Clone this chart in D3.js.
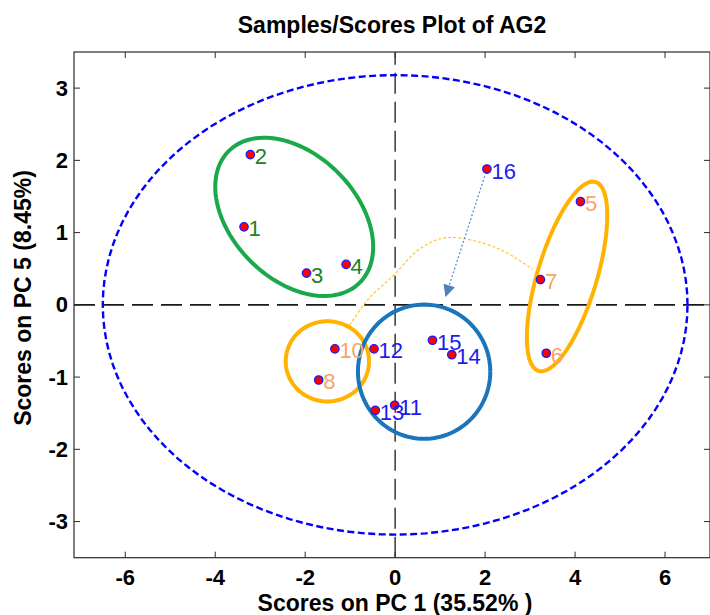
<!DOCTYPE html>
<html><head><meta charset="utf-8">
<script src="https://cdn.jsdelivr.net/npm/d3@7"></script>
<style>body{margin:0;background:#fff}svg{display:block}</style>
</head><body><svg id="c" width="710" height="615"></svg>
<script>
// ---------- data ----------
const sampleIds = ["1","2","3","4","5","6","7","8","10","11","12","13","14","15","16"];
const pc1Scores = [-3.36,-3.22,-1.97,-1.09,4.12,3.36,3.23,-1.70,-1.34,-0.01,-0.47,-0.44,1.26,0.83,2.04];
const pc5Scores = [1.08,2.08,0.44,0.56,1.43,-0.67,0.35,-1.04,-0.61,-1.39,-0.61,-1.46,-0.69,-0.49,1.88];
const sampleGroup = ["green","green","green","green","orange","orange","orange","orange","orange","blue","blue","blue","blue","blue","blue"];
const xTicks = [-6,-4,-2,0,2,4,6];
const yTicks = [-3,-2,-1,0,1,2,3];
const xDomain = [-7.14, 7.0];
const yDomain = [-3.5, 3.5];
// group ellipses: center (PC1, PC5) and two conjugate semi-axes in data units
const ellipseNames = ["green","orangeTall","orangeSmall","blue"];
const ellipseCenters = [[-2.244,1.218],[3.822,0.393],[-1.507,-0.782],[0.644,-0.925]];
const ellipseAxisA = [[1.458,-0.910],[0.633,1.308],[0.926,0],[1.471,0]];
const ellipseAxisB = [[-0.978,-0.610],[0.631,-0.119],[0,0.555],[0,0.929]];
// confidence ellipse (95% limit)
const limitCenter = [0,0];
const limitRadii = [6.5, 3.18];
// trajectory curve and arrow
const curveX = [-1.01,-0.61,-0.05,0.54,1.14,2.25,3.06];
const curveY = [-0.28,0.07,0.40,0.77,0.93,0.79,0.49];
const arrowFrom = [1.99,1.78];
const arrowTo = [1.12,0.11];

// ---------- layout ----------
const svg = d3.select("#c");
const L = 74, R = 710, T = 52, B = 557.7;
const x = d3.scaleLinear().domain(xDomain).range([L, R]);
const y = d3.scaleLinear().domain(yDomain).range([B, T]);
const font = "'Liberation Sans', Arial, sans-serif";

svg.append("defs").append("clipPath").attr("id","clip")
  .append("rect").attr("x",L).attr("y",T).attr("width",R-L).attr("height",B-T);
svg.select("defs").append("marker").attr("id","ah").attr("viewBox","0 0 10 10")
  .attr("refX",10).attr("refY",5).attr("markerWidth",13).attr("markerHeight",12)
  .attr("markerUnits","userSpaceOnUse").attr("orient","auto")
  .append("path").attr("d","M0,0L10,5L0,10Z").attr("fill","#4f7fbf");

const g = svg.append("g").attr("clip-path","url(#clip)");

// zero lines
g.append("line").attr("x1",x(xDomain[0])).attr("x2",x(xDomain[1])).attr("y1",y(0)).attr("y2",y(0))
  .attr("stroke","#1a1a1a").attr("stroke-width",1.6).attr("stroke-dasharray","21,8");
g.append("line").attr("x1",x(0)).attr("x2",x(0)).attr("y1",y(yDomain[0])).attr("y2",y(yDomain[1]))
  .attr("stroke","#444").attr("stroke-width",1.6).attr("stroke-dasharray","21,8");

function ellipsePts(c, a, b){
  return d3.range(0, 361, 3).map(t => {
    const r = t*Math.PI/180;
    return [c[0]+a[0]*Math.cos(r)+b[0]*Math.sin(r), c[1]+a[1]*Math.cos(r)+b[1]*Math.sin(r)];
  });
}
const line = d3.line().x(d=>x(d[0])).y(d=>y(d[1]));

// limit ellipse
g.append("path").attr("d", line(ellipsePts(limitCenter,[limitRadii[0],0],[0,limitRadii[1]])))
  .attr("fill","none").attr("stroke","#0000ff").attr("stroke-width",2.4).attr("stroke-dasharray","7,3.5");

// group ellipses
const ellColor = {green:"#19a84a", orangeTall:"#ffb300", orangeSmall:"#ffb300", blue:"#1b75bb"};
ellipseNames.forEach((n,i)=>{
  g.append("path").attr("d", line(ellipsePts(ellipseCenters[i],ellipseAxisA[i],ellipseAxisB[i])))
    .attr("fill","none").attr("stroke",ellColor[n]).attr("stroke-width",4);
});

// trajectory curve
g.append("path").attr("d", d3.line().x(d=>x(d[0])).y(d=>y(d[1])).curve(d3.curveCatmullRom)(curveX.map((v,i)=>[v,curveY[i]])))
  .attr("fill","none").attr("stroke","#ffc533").attr("stroke-width",1.2).attr("stroke-dasharray","3,2");

// arrow
g.append("line").attr("x1",x(arrowFrom[0])).attr("y1",y(arrowFrom[1])).attr("x2",x(arrowTo[0])).attr("y2",y(arrowTo[1]))
  .attr("stroke","#5b8fd0").attr("stroke-width",1.3).attr("stroke-dasharray","2,2").attr("marker-end","url(#ah)");

// points
const samples = sampleIds.map((id,i)=>({id, px:pc1Scores[i], py:pc5Scores[i], grp:sampleGroup[i]}));
g.selectAll("circle.pt").data(samples).join("circle").attr("class","pt")
  .attr("cx",d=>x(d.px)).attr("cy",d=>y(d.py)).attr("r",4.2)
  .attr("fill","#ff0000").attr("stroke","#1a1aff").attr("stroke-width",1.3);
const labColor = {green:"#22801e", orange:"#f7a468", blue:"#1c1cf0"};
g.selectAll("text.lab").data(samples).join("text").attr("class","lab")
  .attr("x",d=>x(d.px)+4.5).attr("y",d=>y(d.py)+2).attr("dominant-baseline","central")
  .attr("font-family",font).attr("font-size",22).attr("fill",d=>labColor[d.grp]).text(d=>d.id);

// axes box with inward ticks
const ax = svg.append("g").attr("font-family",font).attr("font-weight","bold").attr("font-size",22);
ax.append("rect").attr("x",L).attr("y",T).attr("width",R-L).attr("height",B-T)
  .attr("fill","none").attr("stroke","#2a2a2a").attr("stroke-width",1.2);
const tl = 6;
xTicks.forEach(t=>{
  ax.append("line").attr("x1",x(t)).attr("x2",x(t)).attr("y1",B).attr("y2",B-tl).attr("stroke","#2a2a2a");
  ax.append("line").attr("x1",x(t)).attr("x2",x(t)).attr("y1",T).attr("y2",T+tl).attr("stroke","#2a2a2a");
  ax.append("text").attr("x",x(t)).attr("y",B+20).attr("text-anchor","middle").attr("dominant-baseline","central").text(t);
});
yTicks.forEach(t=>{
  ax.append("line").attr("x1",L).attr("x2",L+tl).attr("y1",y(t)).attr("y2",y(t)).attr("stroke","#2a2a2a");
  ax.append("line").attr("x1",R).attr("x2",R-tl).attr("y1",y(t)).attr("y2",y(t)).attr("stroke","#2a2a2a");
  ax.append("text").attr("x",L-6).attr("y",y(t)).attr("text-anchor","end").attr("dominant-baseline","central").text(t);
});
svg.append("text").attr("x",(L+R)/2).attr("y",25).attr("text-anchor","middle").attr("dominant-baseline","central")
  .attr("font-family",font).attr("font-weight","bold").attr("font-size",23).text("Samples/Scores Plot of AG2");
svg.append("text").attr("x",395).attr("y",603).attr("text-anchor","middle").attr("dominant-baseline","central")
  .attr("font-family",font).attr("font-weight","bold").attr("font-size",23).text("Scores on PC 1 (35.52% )");
svg.append("text").attr("transform",`translate(23,298) rotate(-90)`).attr("text-anchor","middle").attr("dominant-baseline","central")
  .attr("font-family",font).attr("font-weight","bold").attr("font-size",23).text("Scores on PC 5 (8.45%)");
</script></body></html>
